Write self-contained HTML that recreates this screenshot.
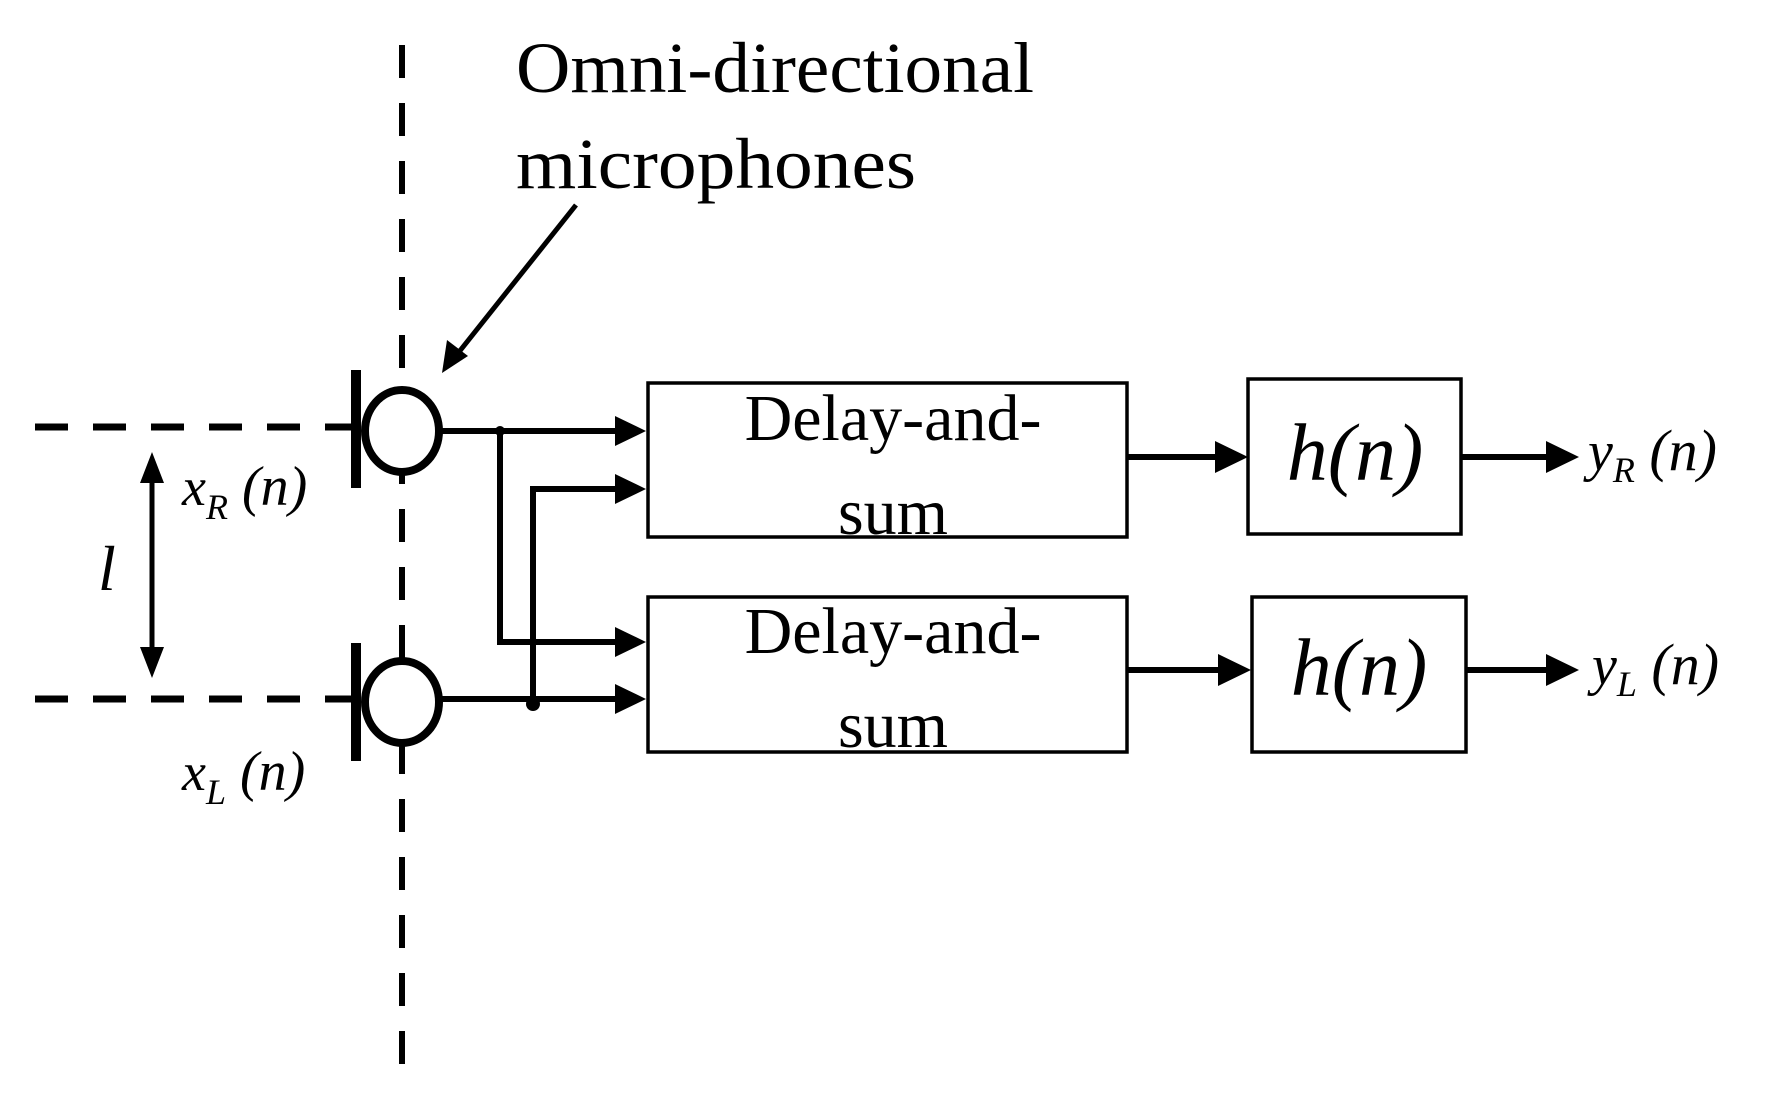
<!DOCTYPE html>
<html><head><meta charset="utf-8"><style>
html,body{margin:0;padding:0;background:#fff;}
svg{display:block;}
text{font-family:"Liberation Serif",serif;fill:#000;}
</style></head><body>
<svg width="1776" height="1113" viewBox="0 0 1776 1113" xmlns="http://www.w3.org/2000/svg">
<defs>
<marker id="ah" markerWidth="10" markerHeight="10" refX="9" refY="5" orient="auto" markerUnits="userSpaceOnUse" viewBox="0 0 10 10">
</marker>
</defs>
<!-- dashed lines -->
<line x1="402" y1="45" x2="402" y2="1080" stroke="#000" stroke-width="6" stroke-dasharray="33,25"/>
<line x1="35" y1="427" x2="352" y2="427" stroke="#000" stroke-width="7" stroke-dasharray="33,25"/>
<line x1="35" y1="699" x2="352" y2="699" stroke="#000" stroke-width="7" stroke-dasharray="33,25"/>
<!-- microphones -->
<rect x="351" y="370" width="10" height="118" fill="#000"/>
<ellipse cx="402" cy="431" rx="37" ry="41" fill="#fff" stroke="#000" stroke-width="8"/>
<rect x="351" y="643" width="10" height="118" fill="#000"/>
<ellipse cx="402" cy="702" rx="37" ry="41" fill="#fff" stroke="#000" stroke-width="8"/>
<!-- l arrow -->
<line x1="152" y1="475" x2="152" y2="655" stroke="#000" stroke-width="5"/>
<polygon points="152,452 140,483 164,483" fill="#000"/>
<polygon points="152,678 140,647 164,647" fill="#000"/>
<text x="98" y="590" font-size="64" font-style="italic">l</text>
<!-- labels -->
<text x="182" y="505" font-size="54" font-style="italic">x<tspan font-size="36" dy="14">R</tspan><tspan dy="-14" font-size="56"> (n)</tspan></text>
<text x="182" y="790" font-size="54" font-style="italic">x<tspan font-size="36" dy="14">L</tspan><tspan dy="-14" font-size="56"> (n)</tspan></text>
<!-- annotation -->
<text x="516" y="92" font-size="72" textLength="518" lengthAdjust="spacingAndGlyphs">Omni-directional</text>
<text x="516" y="188" font-size="72" textLength="400" lengthAdjust="spacingAndGlyphs">microphones</text>
<line x1="576" y1="205" x2="455" y2="357" stroke="#000" stroke-width="5"/>
<polygon points="442,373 447,340 468,356" fill="#000"/>
<!-- connectors -->
<g stroke="#000" stroke-width="6" fill="none">
<line x1="440" y1="431" x2="620" y2="431"/>
<polyline points="500,431 500,642 620,642"/>
<line x1="440" y1="699" x2="620" y2="699"/>
<polyline points="533,699 533,489 620,489"/>
<line x1="1127" y1="457" x2="1222" y2="457"/>
<line x1="1461" y1="457" x2="1555" y2="457"/>
<line x1="1127" y1="670" x2="1225" y2="670"/>
<line x1="1466" y1="670" x2="1555" y2="670"/>
</g>
<g fill="#000">
<polygon points="646,431 615,416 615,446"/>
<polygon points="646,489 615,474 615,504"/>
<polygon points="646,642 615,627 615,657"/>
<polygon points="646,699 615,684 615,714"/>
<polygon points="1248,457 1215,441 1215,473"/>
<polygon points="1579,457 1546,441 1546,473"/>
<polygon points="1251,670 1218,654 1218,686"/>
<polygon points="1579,670 1546,654 1546,686"/>
<circle cx="500" cy="431" r="5"/>
<circle cx="533" cy="704" r="7"/>
</g>
<!-- boxes -->
<g fill="#fff" stroke="#000" stroke-width="3.5">
<rect x="648" y="383" width="479" height="154"/>
<rect x="648" y="597" width="479" height="155"/>
<rect x="1248" y="379" width="213" height="155"/>
<rect x="1252" y="597" width="214" height="155"/>
</g>
<text x="893" y="440" font-size="66" text-anchor="middle">Delay-and-</text>
<text x="893" y="534" font-size="66" text-anchor="middle">sum</text>
<text x="893" y="653" font-size="66" text-anchor="middle">Delay-and-</text>
<text x="893" y="747" font-size="66" text-anchor="middle">sum</text>
<text x="1355" y="480" font-size="82" font-style="italic" text-anchor="middle">h(n)</text>
<text x="1359" y="695" font-size="82" font-style="italic" text-anchor="middle">h(n)</text>
<text x="1588" y="470" font-size="56" font-style="italic">y<tspan font-size="36" dy="12">R</tspan><tspan dy="-12" font-size="58"> (n)</tspan></text>
<text x="1592" y="684" font-size="56" font-style="italic">y<tspan font-size="36" dy="12">L</tspan><tspan dy="-12" font-size="58"> (n)</tspan></text>
</svg>
</body></html>
